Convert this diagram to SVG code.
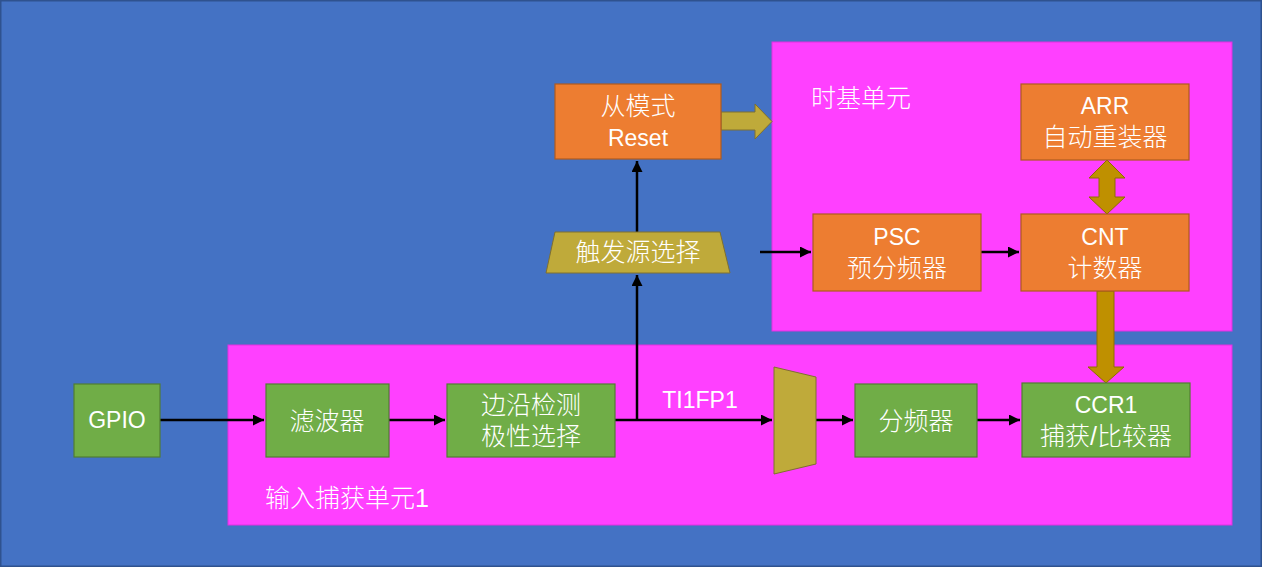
<svg xmlns="http://www.w3.org/2000/svg" width="1262" height="567" viewBox="0 0 1262 567">
<defs>
<style>
.bg{fill:#4472C4;stroke:#2F528F;stroke-width:1.5}
.reg{fill:#FF40FF;stroke:#E030E0;stroke-width:1}
.org{fill:#ED7D31;stroke:#AE5A21;stroke-width:1.2}
.grn{fill:#70AD47;stroke:#507E32;stroke-width:1.2}
.gld{fill:#BFAA3A;stroke:#7F7030;stroke-width:1}
.dgld{fill:#BF9000;stroke:#8F6C00;stroke-width:1}
text{font-family:"Liberation Sans","Noto Sans CJK SC",sans-serif;font-size:25px;font-weight:300;fill:#FFFFFF;text-anchor:middle}
.lat{font-size:23px}
.lbl{text-anchor:start}
.ln{stroke:#000;stroke-width:2.5;fill:none}
</style>
<marker id="ah" viewBox="0 0 10 10" refX="10" refY="5" markerWidth="4.4" markerHeight="4.4" orient="auto" markerUnits="strokeWidth">
<path d="M0,0 L10,5 L0,10 Z" fill="#000"/>
</marker>
</defs>
<rect class="bg" x="0.75" y="0.75" width="1260.5" height="565.5"/>
<g id="timebase">
<rect class="reg" x="772" y="42" width="460" height="289"/>
<text class="lbl" x="811" y="107">时基单元</text>
</g>
<g id="capture">
<rect class="reg" x="228" y="345" width="1004" height="180"/>
<text class="lbl" x="265" y="507">输入捕获单元1</text>
</g>
<g id="connectors">
<path class="ln" d="M160,420 L264,420" marker-end="url(#ah)"/>
<path class="ln" d="M389,420 L445,420" marker-end="url(#ah)"/>
<path class="ln" d="M615,420 L772,420" marker-end="url(#ah)"/>
<path class="ln" d="M816,420 L853,420" marker-end="url(#ah)"/>
<path class="ln" d="M977,420 L1020,420" marker-end="url(#ah)"/>
<path class="ln" d="M637,420 L637,275" marker-end="url(#ah)"/>
<path class="ln" d="M637,232 L637,161" marker-end="url(#ah)"/>
<path class="ln" d="M760,252 L811,252" marker-end="url(#ah)"/>
<path class="ln" d="M981,252 L1019,252" marker-end="url(#ah)"/>
<path class="gld" d="M721,112 L755,112 L755,104 L772,121.5 L755,139 L755,130 L721,130 Z"/>
<path class="dgld" d="M1107,160 L1125,178 L1115,178 L1115,197 L1125,197 L1107,214 L1089,197 L1099,197 L1099,178 L1089,178 Z"/>
<path class="dgld" d="M1097,291 L1114,291 L1114,367 L1124,367 L1106,383 L1088,367 L1097,367 Z"/>
</g>
<g id="slave">
<rect class="org" x="555" y="84" width="166" height="75"/>
<text x="638" y="115">从模式</text>
<text class="lat" x="638" y="146">Reset</text>
</g>
<g id="trigger">
<path class="gld" d="M555,232 L720,232 L730,273 L546,273 Z"/>
<text x="638" y="261">触发源选择</text>
</g>
<g id="arr">
<rect class="org" x="1021" y="84" width="168" height="76"/>
<text class="lat" x="1105" y="114">ARR</text>
<text x="1105" y="146">自动重装器</text>
</g>
<g id="psc">
<rect class="org" x="813" y="214" width="168" height="77"/>
<text class="lat" x="897" y="245">PSC</text>
<text x="897" y="277">预分频器</text>
</g>
<g id="cnt">
<rect class="org" x="1021" y="214" width="168" height="77"/>
<text class="lat" x="1105" y="245">CNT</text>
<text x="1105" y="277">计数器</text>
</g>
<g id="gpio">
<rect class="grn" x="74" y="384" width="86" height="73"/>
<text class="lat" x="117" y="428">GPIO</text>
</g>
<g id="filter">
<rect class="grn" x="266" y="384" width="123" height="73"/>
<text x="327" y="430">滤波器</text>
</g>
<g id="edge">
<rect class="grn" x="447" y="384" width="168" height="73"/>
<text x="531" y="414">边沿检测</text>
<text x="531" y="445">极性选择</text>
</g>
<g id="ti1fp1">
<text class="lat" x="700" y="408">TI1FP1</text>
</g>
<g id="mux">
<path class="gld" d="M774,367 L816,377 L816,464 L774,474 Z"/>
</g>
<g id="div">
<rect class="grn" x="855" y="384" width="122" height="73"/>
<text x="916" y="430">分频器</text>
</g>
<g id="ccr1">
<rect class="grn" x="1022" y="383" width="168" height="74"/>
<text class="lat" x="1106" y="413">CCR1</text>
<text x="1106" y="445">捕获/比较器</text>
</g>
</svg>
